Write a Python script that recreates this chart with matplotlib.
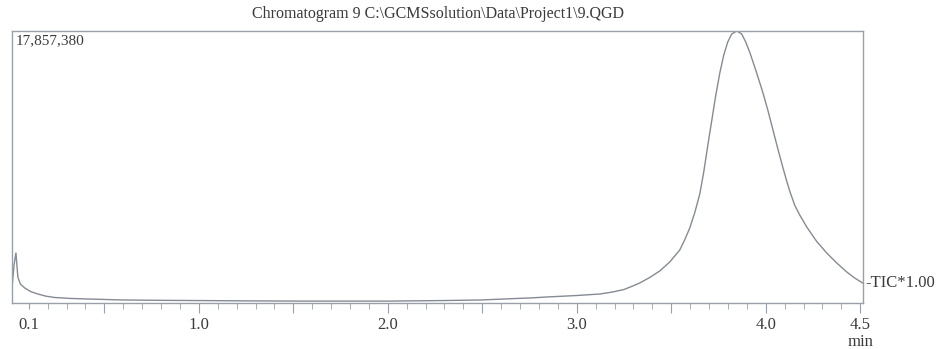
import matplotlib.pyplot as plt
from matplotlib.ticker import MultipleLocator

# retention time (min) and TIC intensity
times = [0.011, 0.022, 0.032, 0.042, 0.055, 0.079, 0.11, 0.148, 0.19, 0.238,
         0.32, 0.413, 0.593, 0.8, 1.0, 1.25, 1.534, 2.0, 2.29, 2.487,
         2.65, 2.767, 2.84, 3.0, 3.122, 3.19, 3.25, 3.296, 3.333, 3.386,
         3.439, 3.492, 3.545, 3.571, 3.598, 3.624, 3.651, 3.672, 3.693, 3.714,
         3.735, 3.757, 3.778, 3.799, 3.82, 3.847, 3.873, 3.894, 3.915, 3.947,
         3.984, 4.011, 4.037, 4.063, 4.09, 4.111, 4.127, 4.153, 4.18, 4.217,
         4.27, 4.323, 4.376, 4.429, 4.471, 4.513]
tic = [982000, 2500000, 3286000, 1714000, 1250000, 982000, 750000, 589000, 450000, 360000,
       300000, 262000, 200000, 175000, 161000, 140000, 125000, 125000, 161000, 196000,
       280000, 340000, 394000, 492000, 591000, 722000, 886000, 1116000, 1313000, 1674000,
       2101000, 2692000, 3480000, 4136000, 4924000, 5909000, 7156000, 8600000, 10307000, 11949000,
       13590000, 15100000, 16282000, 17135000, 17660000, 17857380, 17660000, 17135000, 16479000, 15297000,
       13853000, 12671000, 11423000, 10176000, 8929000, 8010000, 7353000, 6434000, 5777000, 4990000,
       4037000, 3283000, 2626000, 2035000, 1641000, 1313000]

y_max = 17857380
label_ticks = [0.1, 0.5, 1.0, 1.5, 2.0, 2.5, 3.0, 3.5, 4.0, 4.5]
label_text = ['0.1', '', '1.0', '', '2.0', '', '3.0', '', '4.0', '4.5']

plt.rcParams['font.family'] = ['Liberation Serif', 'DejaVu Serif']
txt = '#3a3a3a'
edge = '#9aa0a8'

fig = plt.figure(figsize=(9.43, 3.49), dpi=100)
ax = fig.add_axes([0.0127, 0.1318, 0.9025, 0.7794])

ax.plot(times, tic, color='#858a93', lw=1.0)
ax.set_xlim(0.011, 4.515)
ax.set_ylim(0, y_max)

for s in ax.spines.values():
    s.set_color(edge)
    s.set_linewidth(1.0)

ax.set_yticks([])
ax.set_xticks(label_ticks)
ax.set_xticklabels(label_text, fontsize=12, color=txt)
ax.xaxis.set_minor_locator(MultipleLocator(0.1))
ax.tick_params(axis='x', which='major', length=7, color=edge, pad=3)
ax.tick_params(axis='x', which='minor', length=4, color=edge)
ax.xaxis.get_major_ticks()[0].tick1line.set_markersize(4)

ax.set_title('Chromatogram 9 C:\\GCMSsolution\\Data\\Project1\\9.QGD',
             fontsize=11.5, color=txt, pad=9)
ax.text(0.004, 0.99, '{:,}'.format(y_max), transform=ax.transAxes,
        ha='left', va='top', fontsize=11, color=txt)
ax.annotate('-TIC*1.00', xy=(1.0, tic[-1] / y_max), xycoords='axes fraction',
            xytext=(2, 0), textcoords='offset points', ha='left', va='center',
            fontsize=12, color=txt, annotation_clip=False)
ax.text(4.5, -0.115, 'min', transform=ax.get_xaxis_transform(), ha='center',
        va='top', fontsize=12, color=txt)

fig.savefig('out.png', dpi=100)
